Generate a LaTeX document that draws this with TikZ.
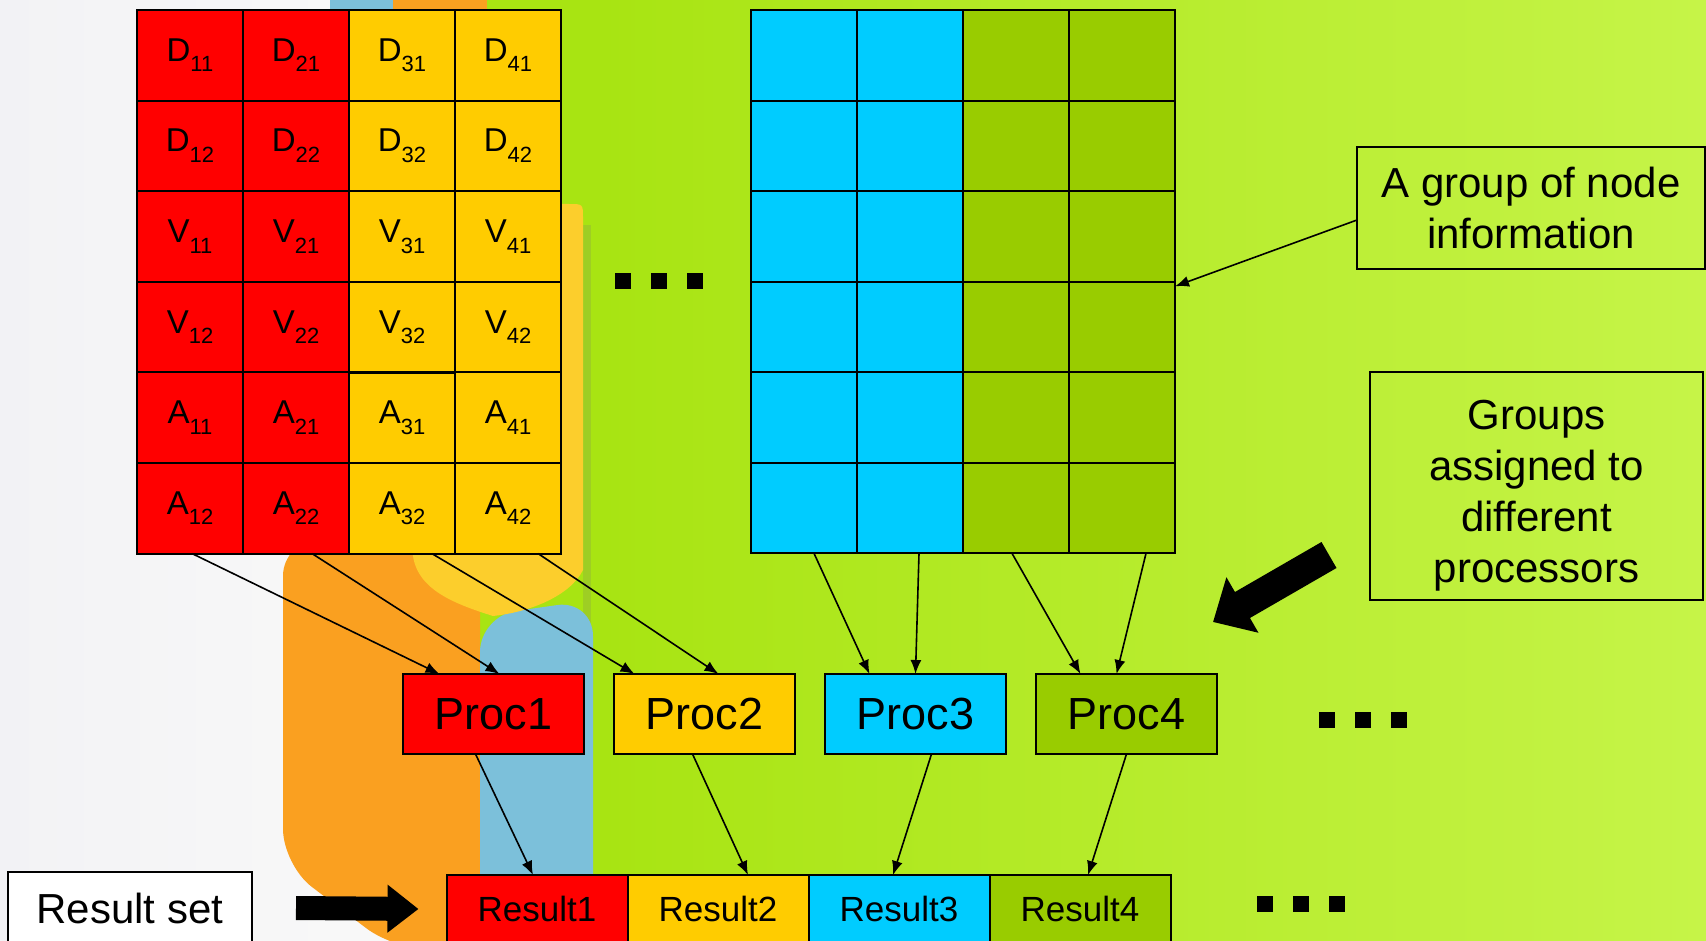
\documentclass[tikz,border=0pt]{standalone}
\usepackage{fontspec}
\setmainfont{Liberation Sans}
\usetikzlibrary{calc,positioning,matrix,arrows.meta}

\definecolor{procred}{RGB}{255,0,0}
\definecolor{procyellow}{RGB}{255,204,0}
\definecolor{proccyan}{RGB}{0,204,255}
\definecolor{procgreen}{RGB}{153,204,0}
\definecolor{limeleft}{RGB}{168,228,18}
\definecolor{limeright}{RGB}{198,244,72}
\definecolor{limeedge}{RGB}{158,206,36}
\definecolor{paperwhite}{RGB}{248,248,248}
\definecolor{papergrey}{RGB}{242,242,245}
\definecolor{taborange}{RGB}{250,160,32}
\definecolor{tabblue}{RGB}{124,192,218}
\definecolor{tabyellow}{RGB}{252,206,44}

\newcommand{\cellsub}[1]{\raisebox{-0.32em}{\fontsize{11}{11}\selectfont#1}}

\tikzset{
    table nodes/.style={
        rectangle,
        draw=black,
        line width=1pt,
        minimum width=53pt,
        minimum height=45.25pt,
        inner sep=0pt,
        outer sep=0pt,
        font=\fontsize{16.5}{18}\selectfont,
    },
    table/.style={
        matrix of nodes,
        row sep=-1pt,
        column sep=-1pt,
        inner sep=0pt,
        outer sep=0pt,
        nodes={
            table nodes
        },
    },
    left group/.style={
        table,
        column 1/.style={nodes={fill=procred}},
        column 2/.style={nodes={fill=procred}},
        column 3/.style={nodes={fill=procyellow}},
        column 4/.style={nodes={fill=procyellow}},
    },
    right group/.style={
        table,
        column 1/.style={nodes={fill=proccyan}},
        column 2/.style={nodes={fill=proccyan}},
        column 3/.style={nodes={fill=procgreen}},
        column 4/.style={nodes={fill=procgreen}},
    },
    procbox/.style={
        rectangle,
        draw=black,
        line width=1pt,
        minimum width=90.5pt,
        minimum height=40pt,
        inner sep=0pt,
        outer sep=0pt,
        font=\fontsize{22.5}{24}\selectfont,
    },
    resbox/.style={
        procbox,
        minimum height=34pt,
        font=\fontsize{17.5}{19}\selectfont,
    },
    labelbox/.style={
        rectangle,
        draw=black,
        line width=1pt,
        align=center,
        inner sep=0pt,
        outer sep=0pt,
        font=\fontsize{21}{25.5}\selectfont,
    },
    connector/.style={
        line width=0.8pt,
        -{Latex[length=7pt,width=5.5pt]},
    },
    fatarrow/.style={
        line width=12pt,
        -{Triangle[length=15.5pt,width=23pt]},
    },
    fatarrow2/.style={
        line width=15pt,
        -{Triangle[length=17pt,width=31pt]},
    },
}

\begin{document}
\begin{tikzpicture}[x=0.5pt,y=-0.5pt]
    \useasboundingbox (0,0) rectangle (1706,941);
    \clip (0,0) rectangle (1706,941);
    % photo behind the diagram
    \fill[limeleft] (0,0) rectangle (600,941);
    \shade[left color=limeleft, right color=limeright] (600,0) rectangle (1706,941);
    \shade[left color=papergrey, right color=paperwhite] (0,0) rectangle (335,941);
    \fill[paperwhite] (330,530) rectangle (480,941);
    \fill[tabblue] (330,0) rectangle (393,120);
    \fill[taborange] (393,0) rectangle (487,120);
    \fill[limeedge] (583,225) rectangle (591,941);
    \fill[taborange, rounded corners=18] (283,540) -- (283,865) -- (395,950) -- (480,950) -- (480,540) -- cycle;
    \fill[tabblue, rounded corners=18] (480,960) -- (480,616) -- (593,600) -- (593,960) -- cycle;
    \fill[tabyellow] (400,204) -- (569,204) .. controls (583,204) .. (583,218) -- (583,570)
        .. controls (570,596) and (530,612) .. (493,616)
        .. controls (455,604) and (418,590) .. (413,556) -- cycle;

    % node groups
    \matrix (grpA) [left group, anchor=north west] at (136,9) {
        D\cellsub{11} & D\cellsub{21} & D\cellsub{31} & D\cellsub{41} \\
        D\cellsub{12} & D\cellsub{22} & D\cellsub{32} & D\cellsub{42} \\
        V\cellsub{11} & V\cellsub{21} & V\cellsub{31} & V\cellsub{41} \\
        V\cellsub{12} & V\cellsub{22} & V\cellsub{32} & V\cellsub{42} \\
        A\cellsub{11} & A\cellsub{21} & A\cellsub{31} & A\cellsub{41} \\
        A\cellsub{12} & A\cellsub{22} & A\cellsub{32} & A\cellsub{42} \\
    };
    \matrix (grpB) [right group, right=94pt of grpA] {
        {} & {} & {} & {} \\
        {} & {} & {} & {} \\
        {} & {} & {} & {} \\
        {} & {} & {} & {} \\
        {} & {} & {} & {} \\
        {} & {} & {} & {} \\
    };

    % processors and results
    \node[procbox, fill=procred] (proc1) at (493.5,714) {Proc1};
    \node[procbox, fill=procyellow, right=15pt of proc1] (proc2) {Proc2};
    \node[procbox, fill=proccyan, right=15pt of proc2] (proc3) {Proc3};
    \node[procbox, fill=procgreen, right=15pt of proc3] (proc4) {Proc4};
    \node[resbox, fill=procred] (res1) at (537,909) {Result1};
    \node[resbox, fill=procyellow, right=0pt of res1] (res2) {Result2};
    \node[resbox, fill=proccyan, right=0pt of res2] (res3) {Result3};
    \node[resbox, fill=procgreen, right=0pt of res3] (res4) {Result4};

    % labels
    \node[labelbox, fill=white, minimum width=122pt, minimum height=36pt] (resset) at (130,908) {Result set};
    \node[labelbox, minimum width=174pt, minimum height=61pt] (infobox) at (1531,208) {A group of node\\information};
    \node[labelbox, minimum width=166.5pt, minimum height=114pt] (assignbox) at (1536.5,486) {\rule{0pt}{24.5pt}Groups\\assigned to\\different\\processors};

    \draw[connector] ([xshift=1pt]grpA-6-1.south) -- ([xshift=-27pt]proc1.north);
    \draw[connector] ([xshift=8pt]grpA-6-2.south) -- ([xshift=3pt]proc1.north);
    \draw[connector] ([xshift=15pt]grpA-6-3.south) -- ([xshift=-35pt]proc2.north);
    \draw[connector] ([xshift=15pt]grpA-6-4.south) -- ([xshift=7pt]proc2.north);
    \draw[connector] ([xshift=5pt]grpB-6-1.south) -- ([xshift=-23pt]proc3.north);
    \draw[connector] ([xshift=4.5pt]grpB-6-2.south) -- (proc3.north);
    \draw[connector] ([xshift=-2pt]grpB-6-3.south) -- ([xshift=-23pt]proc4.north);
    \draw[connector] ([xshift=12pt]grpB-6-4.south) -- ([xshift=-5pt]proc4.north);
    \draw[connector] ([xshift=-9pt]proc1.south) -- ([xshift=-2pt]res1.north);
    \draw[connector] ([xshift=-6pt]proc2.south) -- ([xshift=15pt]res2.north);
    \draw[connector] ([xshift=8pt]proc3.south) -- ([xshift=-3pt]res3.north);
    \draw[connector] (proc4.south) -- ([xshift=4pt]res4.north);
    \draw[connector] ([yshift=-6pt]infobox.west) -- ([yshift=-2.25pt]grpB-3-4.south east);

    % big arrows
    \draw[fatarrow] ($(resset.east)+(44,0)$) -- ($(res1.west)+(-28,0)$);
    \coordinate (fattail) at (1329,555);
    \coordinate (fattip) at (1213,622);
    \draw[fatarrow2] (fattail) -- (fattip);

    % dots
    \foreach \sx/\sy in {623/281,1327/720,1265/904}
        \foreach \dx in {0,36,72}
            \fill (\sx+\dx,\sy) +(-8,-8) rectangle +(8,8);
\end{tikzpicture}
\end{document}
